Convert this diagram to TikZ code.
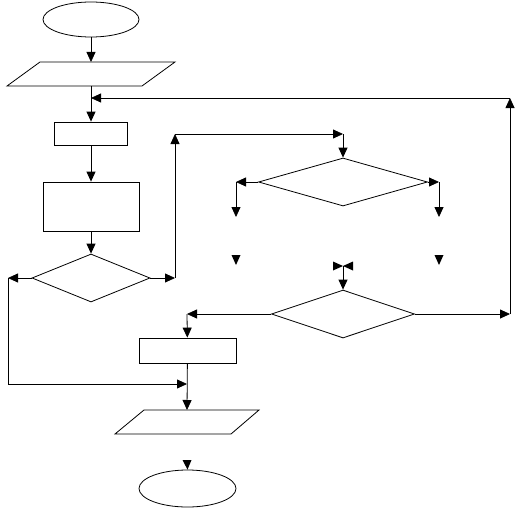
\documentclass[tikz,border=0pt]{standalone}
\usetikzlibrary{shapes.geometric,arrows.meta}
\begin{document}
\begin{tikzpicture}[x=1pt,y=-1pt,
  shp/.style={draw, line width=0.8pt, inner sep=0pt},
  ln/.style={line width=0.8pt},
  arr/.style={line width=0.8pt, -{Triangle[length=10pt,width=9pt]}},
  head/.style={fill=black}]
\useasboundingbox (0,0) rectangle (518,508);
% shapes
\node[shp, ellipse, minimum width=96pt, minimum height=35pt] (start) at (91,19.5) {};
\draw[ln] (40,62) -- (175,62) -- (142,86) -- (7,86) -- cycle;
\coordinate (p1t) at (91,62);
\coordinate (p1b) at (91,86);
\node[shp, rectangle, minimum width=73pt, minimum height=23pt] (r1) at (91,133.5) {};
\node[shp, rectangle, minimum width=96pt, minimum height=49pt] (r2) at (91,206.5) {};
\node[shp, diamond, minimum width=118pt, minimum height=48pt] (d1) at (91,278) {};
\node[shp, diamond, minimum width=169pt, minimum height=48pt] (d2) at (343,182) {};
\node[shp, diamond, minimum width=143pt, minimum height=48pt] (d3) at (343,314) {};
\node[shp, rectangle, minimum width=97pt, minimum height=25pt] (r3) at (187.5,350.5) {};
\draw[ln] (144,410) -- (259,410) -- (231,434) -- (115,434) -- cycle;
\coordinate (p2t) at (187,410);
\node[shp, ellipse, minimum width=97pt, minimum height=37pt] (stop) at (187.5,488.5) {};
% coordinates
\coordinate (j1) at (91,98);
\coordinate (c3) at (8,278);
\coordinate (c4) at (8,384);
\coordinate (j2) at (187,384);
\coordinate (c5) at (175,278);
\coordinate (c6) at (175,134);
\coordinate (c7) at (343,134);
\coordinate (c8) at (236,182);
\coordinate (c9) at (236,217);
\coordinate (c10) at (439,182);
\coordinate (c11) at (439,217);
\coordinate (c12) at (343,266);
\coordinate (c13) at (187,314);
\coordinate (c14) at (510,314);
\coordinate (c15) at (510,98);
% connectors
\draw[arr] (start) -- (p1t);
\draw[arr] (p1b) -- (r1);
\draw[arr] (c15) -- (j1);
\draw[arr] (r1) -- (r2);
\draw[arr] (r2) -- (d1);
\draw[arr] (d1.west) -- (c3);
\draw[arr] (c3) -- (c4) -- (j2);
\draw[arr] (d1.east) -- (c5);
\draw[arr] (c5) -- (c6);
\draw[arr] (c6) -- (c7);
\draw[arr] (c7) -- (d2);
\draw[arr] (d2.west) -- (c8);
\draw[arr] (c8) -- (c9);
\draw[arr] (d2.east) -- (c10);
\draw[arr] (c10) -- (c11);
\draw[arr] (c12) -- (d3);
\draw[arr] (d3.west) -- (c13);
\draw[arr] (c13) -- (r3);
\draw[arr] (d3.east) -- (c14);
\draw[arr] (c14) -- (c15);
\draw[arr] (r3) -- (p2t);
% loose arrowheads
\fill[head] (231.5,255) -- (240.5,255) -- (236,265) -- cycle;
\fill[head] (434.5,255) -- (443.5,255) -- (439,265) -- cycle;
\fill[head] (333,261.5) -- (333,270.5) -- (343,266) -- cycle;
\fill[head] (353,261.5) -- (353,270.5) -- (343,266) -- cycle;
\fill[head] (182.5,460) -- (191.5,460) -- (stop.north) -- cycle;
\end{tikzpicture}
\end{document}
